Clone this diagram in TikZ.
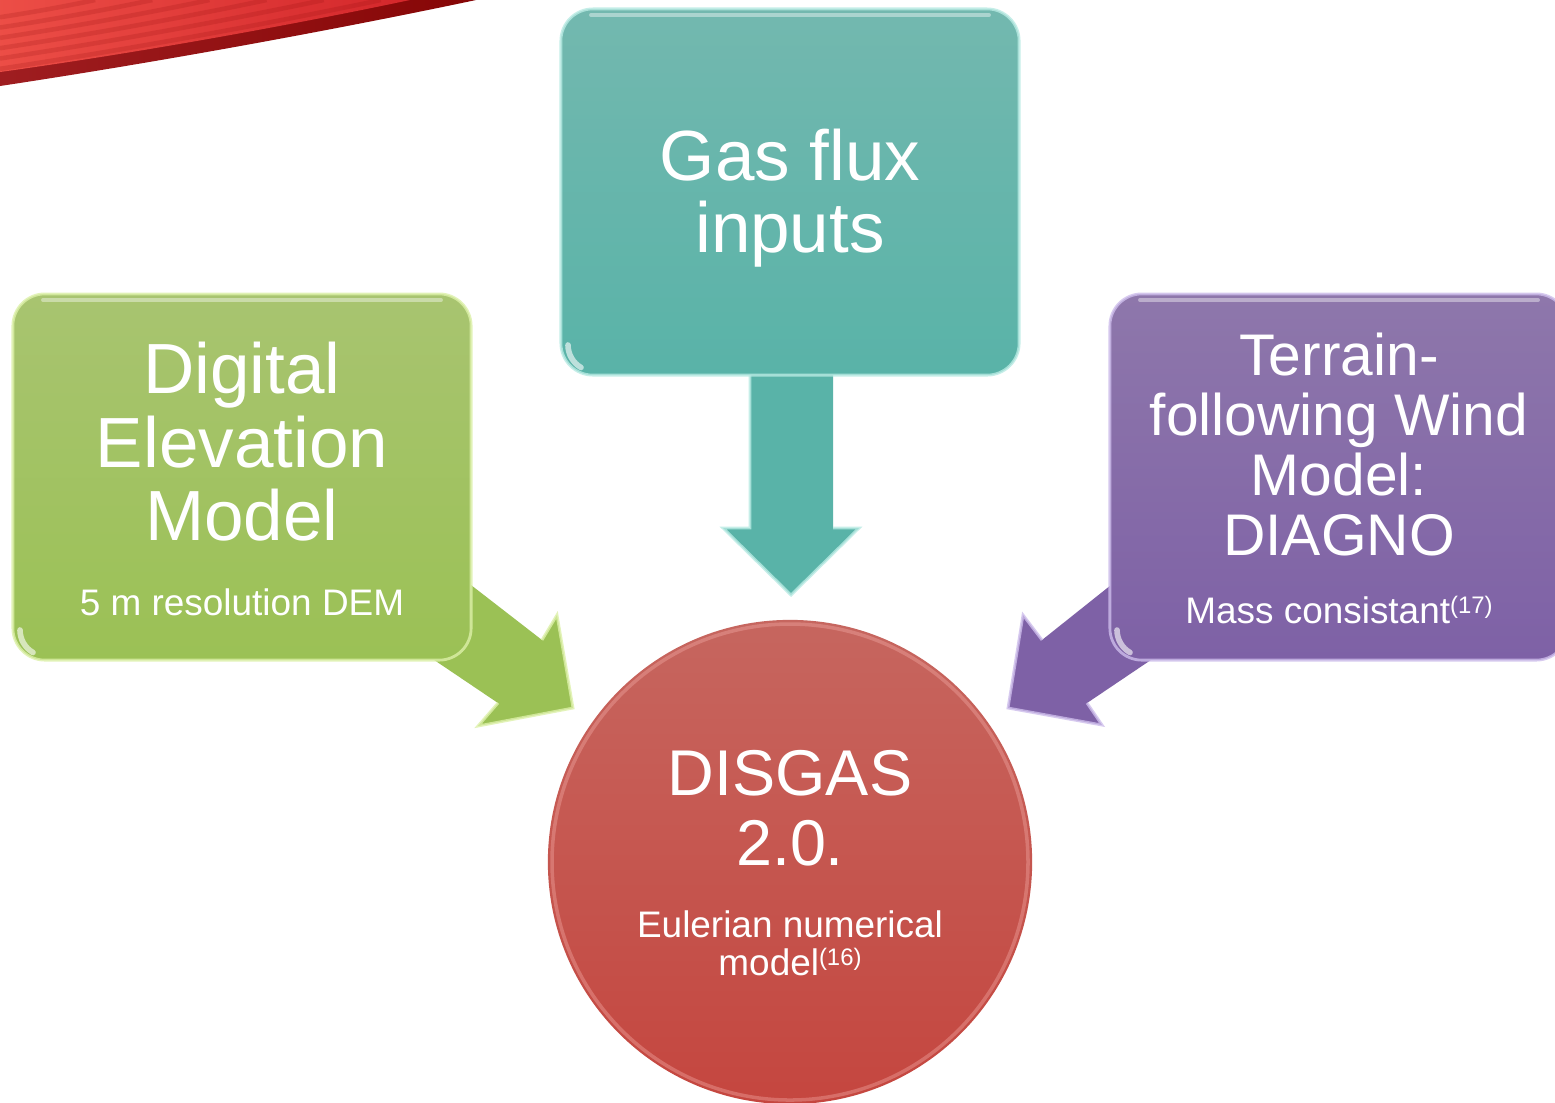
\documentclass[tikz,border=0pt]{standalone}
\usepackage{fontspec}
\setmainfont{Liberation Sans}

\definecolor{demtop}{HTML}{A8C470}
\definecolor{dembot}{HTML}{9BC155}
\definecolor{demedge}{HTML}{DCF0A8}
\definecolor{gastop}{HTML}{73B8AF}
\definecolor{gasbot}{HTML}{59B3A8}
\definecolor{gasedge}{HTML}{B8EAE3}
\definecolor{windtop}{HTML}{8E77AB}
\definecolor{windbot}{HTML}{7E61A6}
\definecolor{windedge}{HTML}{CDBDEB}
\definecolor{coretop}{HTML}{C6665F}
\definecolor{corebot}{HTML}{C5463F}
\definecolor{coreedge}{HTML}{F2A9A4}
\definecolor{swooshlight}{HTML}{EA3A32}
\definecolor{swooshmid}{HTML}{D4272B}
\definecolor{swooshdark}{HTML}{860606}

\newcommand\refmark[1]{\raisebox{2.6pt}{\fontsize{6.8pt}{6.8pt}\selectfont(#1)}}

\tikzset{
  panel/.style={rectangle, rounded corners=0.32cm, minimum width=4.58cm,
    minimum height=3.66cm, inner sep=0pt},
  headline/.style={text=white, anchor=base, inner sep=0pt,
    font=\fontsize{20.2pt}{20.2pt}\selectfont},
  windline/.style={text=white, anchor=base, inner sep=0pt,
    font=\fontsize{16.7pt}{16.7pt}\selectfont},
  coreline/.style={text=white, anchor=base, inner sep=0pt,
    font=\fontsize{18.4pt}{18.4pt}\selectfont},
  note/.style={text=white, anchor=base, inner sep=0pt,
    font=\fontsize{10.5pt}{10.5pt}\selectfont},
  blockarrow/.style={fill=#1, line join=miter},
  rim/.style={draw=#1, line width=0.8pt, draw opacity=0.8},
  gloss/.style={draw=white, line width=1.1pt, draw opacity=0.4, line cap=round}
}

\begin{document}
\begin{tikzpicture}[x=0.01cm, y=-0.01cm]
\clip (0,0) rectangle (1555,1102);
\fill[white] (0,0) rectangle (1555,1102);

% red ribbon in the upper left corner: a dark lower band under a bright body
\shade[left color=swooshmid!75!black, right color=swooshdark]
  (0,0) -- (476,0) .. controls (372,22) and (192,57) .. (0,86) -- cycle;
\shade[left color=swooshlight!90!white, right color=swooshmid]
  (0,0) -- (410,0) .. controls (320,19) and (165,49) .. (0,72) -- cycle;
\foreach \s in {0.2,0.32,0.44,0.56,0.68,0.8}{
  \draw[swooshdark, draw opacity=0.16, line width=1.3pt]
    (0,86*\s) .. controls (192*\s,57*\s) and (372*\s,22*\s) .. (476*\s,0);
}

% block arrows (drawn first, the boxes overlap their tails)
\coordinate (demS1) at (400,530);
\coordinate (demH1) at (542,640);
\coordinate (demB1) at (557,615);
\coordinate (demTip) at (573,708);
\coordinate (demB2) at (478,726);
\coordinate (demH2) at (498,703);
\coordinate (demS2) at (360,610);
\fill[blockarrow=dembot] (demS1) -- (demH1) -- (demB1) -- (demTip) -- (demB2)
  -- (demH2) -- (demS2) -- cycle;
\draw[rim=demedge] (demH1) -- (demB1) -- (demTip) -- (demB2) -- (demH2);

\coordinate (gasS1) at (750,360);
\coordinate (gasH1) at (750,528);
\coordinate (gasB1) at (723,528);
\coordinate (gasTip) at (791,595);
\coordinate (gasB2) at (859,528);
\coordinate (gasH2) at (833,528);
\coordinate (gasS2) at (833,360);
\fill[blockarrow=gasbot] (gasS1) -- (gasH1) -- (gasB1) -- (gasTip) -- (gasB2)
  -- (gasH2) -- (gasS2) -- cycle;
\draw[rim=gasedge] (gasS1) -- (gasH1) -- (gasB1) -- (gasTip) -- (gasB2) -- (gasH2);

\coordinate (windS1) at (1180,530);
\coordinate (windH1) at (1042,640);
\coordinate (windB1) at (1023,615);
\coordinate (windTip) at (1008,708);
\coordinate (windB2) at (1102,725);
\coordinate (windH2) at (1087,703);
\coordinate (windS2) at (1225,610);
\fill[blockarrow=windbot] (windS1) -- (windH1) -- (windB1) -- (windTip) -- (windB2)
  -- (windH2) -- (windS2) -- cycle;
\draw[rim=windedge] (windH1) -- (windB1) -- (windTip) -- (windB2) -- (windH2);

% the three input panels
\node[panel, top color=demtop, bottom color=dembot, rim=demedge] (dem) at (242,477) {};
\node[panel, top color=gastop, bottom color=gasbot, rim=gasedge] (gas) at (790,192) {};
\node[panel, top color=windtop, bottom color=windbot, rim=windedge] (wind) at (1339,477) {};

\foreach \x/\y in {13/294, 561/9, 1110/294}{
  \draw[gloss] (\x+30,\y+6) -- (\x+428,\y+6);
  \draw[gloss, draw opacity=0.6, line width=1.6pt]
    (\x+7,\y+336) arc[start angle=180, end angle=120, radius=26];
}

% central model
\node[circle, minimum size=4.84cm, inner sep=0pt, top color=coretop,
  bottom color=corebot] (core) at (790,862) {};
\draw[coreedge, draw opacity=0.4, line width=1pt] (core.center) circle[radius=238];

% panel texts
\node[headline] (demL1) at (242,393) {Digital};
\node[headline] (demL2) at (242,467) {Elevation};
\node[headline] (demL3) at (242,540) {Model};
\node[note] (demN) at (242,615) {5 m resolution DEM};

\node[headline] (gasL1) at (790,180) {Gas flux};
\node[headline] (gasL2) at (790,252) {inputs};

\node[windline] (windL1) at (1339,375) {Terrain-};
\node[windline] (windL2) at (1339,435) {following Wind};
\node[windline] (windL3) at (1339,495) {Model:};
\node[windline] (windL4) at (1339,555) {DIAGNO};
\node[note] (windN) at (1339,623) {Mass consistant\refmark{17}};

\node[coreline] (coreL1) at (790,795) {DISGAS};
\node[coreline] (coreL2) at (790,865) {2.0.};
\node[note] (coreN1) at (790,937) {Eulerian numerical};
\node[note] (coreN2) at (790,975) {model\refmark{16}};
\end{tikzpicture}
\end{document}
